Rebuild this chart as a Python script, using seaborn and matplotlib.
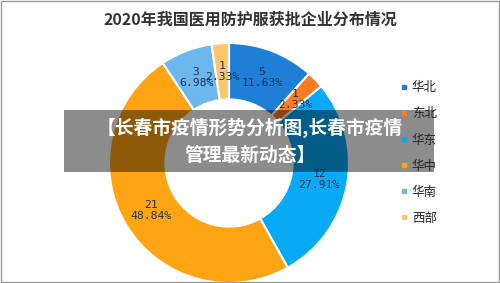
import matplotlib
matplotlib.use("Agg")
import matplotlib.pyplot as plt
import seaborn as sns
import numpy as np
from matplotlib.patches import Rectangle
from matplotlib.lines import Line2D

sns.set_theme(style="white")
plt.rcParams['font.family'] = ['Noto Sans CJK SC', 'DejaVu Sans']

title = "2020年我国医用防护服获批企业分布情况"
regions = ["华北", "东北", "华东", "华中", "华南", "西部"]
counts = [5, 1, 12, 21, 3, 1]
percents = ["11.63%", "2.33%", "27.91%", "48.84%", "6.98%", "2.33%"]
colors = ["#1f7fd6", "#ff7b22", "#08aaf5", "#ffa412", "#6cb8ee", "#ffc66e"]
banner_lines = ["【长春市疫情形势分析图,长春市疫情", "管理最新动态】"]

fig = plt.figure(figsize=(5, 2.83), dpi=100)
fig.patch.set_facecolor("white")

ax = fig.add_axes([0.218, 0.0, 0.48, 0.848])
wedges, _ = ax.pie(counts, colors=colors, startangle=90, counterclock=False,
                   radius=1.0, wedgeprops=dict(width=0.47, edgecolor="white", linewidth=1.5))
ax.set_xlim(-1, 1)
ax.set_ylim(-1, 1)
ax.set_aspect("equal")
ax.axis("off")

total = sum(counts)
cum = 0
for c, p in zip(counts, percents):
    mid = 90 - (cum + c / 2) / total * 360
    cum += c
    r = 0.765
    x, y = r * np.cos(np.radians(mid)), r * np.sin(np.radians(mid))
    ax.text(x, y, f"{c}\n{p}", ha="center", va="center", fontsize=8.2,
            family=["DejaVu Sans Mono"], color="#1e3350", linespacing=1.15)

handles = [Line2D([0], [0], marker="s", linestyle="none", markersize=3.5,
                  markerfacecolor=col, markeredgecolor=col) for col in colors]
fig.legend(handles, regions, loc="upper left", bbox_to_anchor=(0.79, 0.735),
           frameon=False, fontsize=9, handlelength=0.5, handletextpad=0.35,
           labelspacing=1.05, borderpad=0)

fig.text(0.5, 0.93, title, ha="center", va="center", fontsize=11.5,
         color="#333333", fontweight="bold")

# banner overlay
fig.patches.append(Rectangle((64 / 500, 1 - 172 / 283), (434 - 64) / 500, (172 - 110) / 283,
                             transform=fig.transFigure, facecolor="black", alpha=0.45,
                             edgecolor="none", zorder=5))
fig.text(0.5, 1 - 128 / 283, banner_lines[0], ha="center", va="center", fontsize=13.5,
         color="white", fontweight="bold", zorder=6)
fig.text(0.5, 1 - 155 / 283, banner_lines[1], ha="center", va="center", fontsize=13.5,
         color="white", fontweight="bold", zorder=6)

# border
fig.patches.append(Rectangle((0.002, 0.004), 0.996, 0.992, transform=fig.transFigure,
                             facecolor="none", edgecolor="#999999", linewidth=1.0, zorder=7))

fig.savefig("out.png", dpi=100)
